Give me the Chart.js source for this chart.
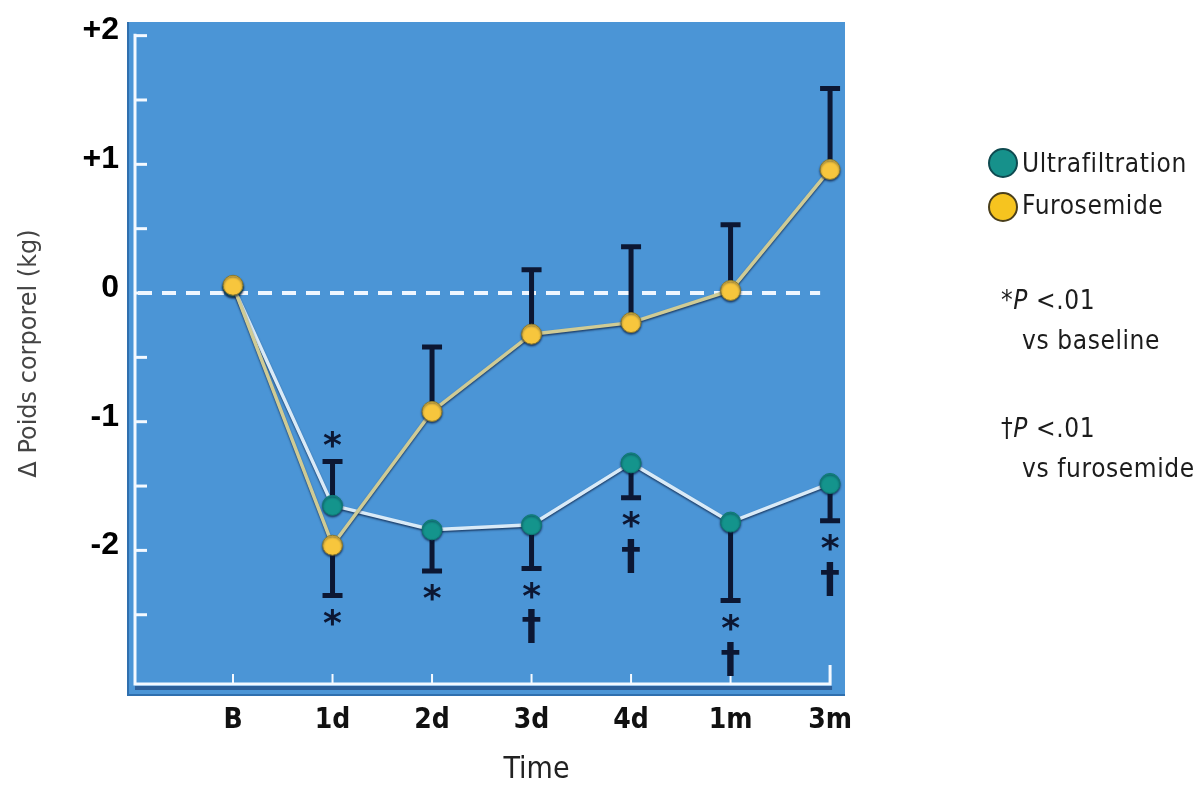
<!DOCTYPE html>
<html>
<head>
<meta charset="utf-8">
<title>Poids corporel</title>
<script src="https://cdn.jsdelivr.net/npm/chart.js@4.4.0/dist/chart.umd.min.js"></script>
<style>
    body { margin: 0; background: #fff; }
    #wrap { position: relative; width: 1201px; height: 788px; overflow: hidden; }
    #side { position: absolute; left: 0; top: 0; font-family: 'Liberation Sans Narrow', 'DejaVu Sans Condensed', sans-serif; font-size: 26px; letter-spacing: 0.6px; color: #1c1c1c; }
    #side div { position: absolute; white-space: nowrap; line-height: 32px; }
    .dot { width: 30px; height: 30px; border-radius: 50%; box-sizing: border-box; border: 2px solid #243a3a; }
</style>
</head>
<body>
<div id="wrap">
    <canvas id="weightChart" width="1201" height="788"></canvas>
    <div id="side">
        <div class="dot" style="left:988px; top:148px; background:#16918b; border-color:#0e4a50;"></div>
        <div style="left:1022px; top:147px;">Ultrafiltration</div>
        <div class="dot" style="left:988px; top:192px; background:#f6c41f; border-color:#4a3f1c;"></div>
        <div style="left:1022px; top:189px;">Furosemide</div>
        <div style="left:1001px; top:284px;">*<i>P</i> &lt;.01</div>
        <div style="left:1022px; top:324px;">vs baseline</div>
        <div style="left:1001px; top:412px;">†<i>P</i> &lt;.01</div>
        <div style="left:1022px; top:452px;">vs furosemide</div>
    </div>
</div>
<script>
    // Data
    const categories = ['B', '1d', '2d', '3d', '4d', '1m', '3m'];
    const ultrafiltration = [0.05, -1.65, -1.84, -1.80, -1.32, -1.78, -1.48];
    const furosemide = [0.06, -1.96, -0.92, -0.32, -0.23, 0.02, 0.96];
    // end value of each error bar
    const ultrafiltrationErr = [null, -1.31, -2.16, -2.14, -1.59, -2.39, -1.77];
    const furosemideErr = [null, -2.35, -0.42, 0.18, 0.36, 0.53, 1.59];
    // significance marks, placed past the end of the error bar
    const ultrafiltrationSig = ['', '*', '*', '*†', '*†', '*†', '*†'];
    const furosemideSig = ['', '*', '', '', '', '', ''];
    const yTickValues = [-2.5, -2, -1.5, -1, -0.5, 0, 0.5, 1, 1.5, 2];

    const narrow = "'Liberation Sans Narrow', 'DejaVu Sans Condensed', sans-serif";
    const navy = '#0c1733';

    const decorPlugin = {
        id: 'decor',
        beforeDraw(chart) {
            const { ctx, chartArea: a, scales: { x, y } } = chart;
            ctx.save();
            // blue panel
            ctx.fillStyle = '#2f6fae';
            ctx.fillRect(a.left - 9, a.top, a.right - a.left + 9, a.bottom - a.top + 11);
            ctx.fillStyle = '#4b95d6';
            ctx.fillRect(a.left - 7, a.top, a.right - a.left + 7, a.bottom - a.top + 9);
            ctx.fillStyle = '#2d5f99';
            ctx.fillRect(a.left - 1, a.bottom + 1, x.getPixelForValue(6) - a.left + 3, 4);

            // white axes with ticks
            const x6 = x.getPixelForValue(6);
            const yTop = y.getPixelForValue(2) - 2;
            ctx.strokeStyle = '#f4f9ff';
            ctx.lineWidth = 3;
            ctx.beginPath();
            ctx.moveTo(a.left - 1, yTop);
            ctx.lineTo(a.left - 1, a.bottom - 1);
            ctx.lineTo(x6, a.bottom - 1);
            ctx.lineTo(x6, a.bottom - 20);
            ctx.stroke();
            y.ticks.forEach(t => {
                const py = y.getPixelForValue(t.value);
                ctx.beginPath();
                ctx.moveTo(a.left, py);
                ctx.lineTo(a.left + 11, py);
                ctx.stroke();
            });
            ctx.lineWidth = 2;
            x.ticks.forEach(t => {
                const px = x.getPixelForValue(t.value);
                ctx.beginPath();
                ctx.moveTo(px, a.bottom - 1);
                ctx.lineTo(px, a.bottom - 11);
                ctx.stroke();
            });

            // dashed zero line
            const y0 = y.getPixelForValue(0);
            ctx.strokeStyle = '#eef6ff';
            ctx.lineWidth = 4;
            ctx.setLineDash([14, 10]);
            ctx.beginPath();
            ctx.moveTo(a.left + 2, y0);
            ctx.lineTo(x.getPixelForValue(5.9), y0);
            ctx.stroke();
            ctx.restore();
        },
        beforeDatasetsDraw(chart) {
            const { ctx, scales: { x, y } } = chart;
            const bars = [[ultrafiltration, ultrafiltrationErr], [furosemide, furosemideErr]];
            ctx.save();
            ctx.strokeStyle = navy;
            ctx.lineWidth = 5;
            bars.forEach(([vals, ends]) => {
                vals.forEach((v, i) => {
                    if (ends[i] === null) return;
                    const px = x.getPixelForValue(i);
                    const p0 = y.getPixelForValue(v);
                    const p1 = y.getPixelForValue(ends[i]);
                    ctx.beginPath();
                    ctx.moveTo(px, p0);
                    ctx.lineTo(px, p1);
                    ctx.moveTo(px - 10, p1);
                    ctx.lineTo(px + 10, p1);
                    ctx.stroke();
                });
            });
            ctx.restore();
        },
        beforeDatasetDraw(chart) {
            chart.ctx.save();
            chart.ctx.shadowColor = 'rgba(10, 25, 60, 0.7)';
            chart.ctx.shadowBlur = 2;
            chart.ctx.shadowOffsetY = 1.5;
        },
        afterDatasetDraw(chart) {
            chart.ctx.restore();
        },
        afterDatasetsDraw(chart) {
            const { ctx, scales: { x, y } } = chart;
            const marks = [[ultrafiltration, ultrafiltrationErr, ultrafiltrationSig], [furosemide, furosemideErr, furosemideSig]];
            ctx.save();
            ctx.fillStyle = navy;
            ctx.textAlign = 'center';
            ctx.textBaseline = 'alphabetic';
            marks.forEach(([vals, ends, sig]) => {
                vals.forEach((v, i) => {
                    if (!sig[i]) return;
                    const px = x.getPixelForValue(i);
                    const pEnd = y.getPixelForValue(ends[i]);
                    const dir = ends[i] < v ? 1 : -1;
                    Array.from(sig[i]).forEach((s, k) => {
                        ctx.font = s === '*' ? "bold 36px 'DejaVu Sans'" : "bold 40px 'DejaVu Sans'";
                        const m = ctx.measureText(s);
                        const cy = pEnd + dir * (22 + 36 * k);
                        ctx.fillText(s, px, cy + (m.actualBoundingBoxAscent - m.actualBoundingBoxDescent) / 2);
                    });
                });
            });
            ctx.restore();
        },
        afterDraw(chart) {
            // x-axis title sits under 3d in the original, not centred on the axis
            const { ctx, scales: { x } } = chart;
            ctx.save();
            ctx.fillStyle = '#222';
            ctx.font = '30px ' + narrow;
            ctx.textAlign = 'center';
            ctx.textBaseline = 'middle';
            ctx.fillText('Time', x.getPixelForValue(3.05), 770);
            ctx.restore();
        }
    };

    const ctx = document.getElementById('weightChart').getContext('2d');
    new Chart(ctx, {
        type: 'line',
        data: {
            datasets: [
                {
                    label: 'Furosemide',
                    data: furosemide.map((v, i) => ({ x: i, y: v })),
                    borderColor: '#cfcb95',
                    borderWidth: 3.5,
                    pointRadius: 10,
                    pointBackgroundColor: '#f7c63d',
                    pointBorderColor: '#8a7a30',
                    pointBorderWidth: 1,
                    tension: 0
                },
                {
                    label: 'Ultrafiltration',
                    data: ultrafiltration.map((v, i) => ({ x: i, y: v })),
                    borderColor: '#d9eaf7',
                    borderWidth: 3.5,
                    pointRadius: 10,
                    pointBackgroundColor: '#14948c',
                    pointBorderColor: '#0f7a74',
                    pointBorderWidth: 1,
                    tension: 0
                }
            ]
        },
        options: {
            responsive: false,
            animation: false,
            layout: { padding: { left: 0, top: 22, right: 356, bottom: 0 } },
            plugins: {
                legend: { display: false },
                tooltip: { enabled: false }
            },
            scales: {
                x: {
                    type: 'linear',
                    min: -0.975,
                    max: 6.15,
                    grid: { display: false, drawTicks: false },
                    border: { display: false },
                    afterBuildTicks: scale => { scale.ticks = categories.map((c, i) => ({ value: i })); },
                    afterFit: scale => { scale.height = 103; scale.paddingLeft = 0; scale.paddingRight = 0; },
                    ticks: {
                        callback: v => categories[v],
                        color: '#111',
                        padding: 19,
                        maxRotation: 0,
                        autoSkip: false,
                        font: { family: narrow, size: 28, weight: 'bold' }
                    },
                    title: { display: false, text: 'Time' }
                },
                y: {
                    min: -3.046,
                    max: 2.106,
                    grid: { display: false, drawTicks: false },
                    border: { display: false },
                    afterBuildTicks: scale => { scale.ticks = yTickValues.map(v => ({ value: v })); },
                    afterFit: scale => { scale.width = 136; scale.paddingTop = 0; scale.paddingBottom = 0; },
                    ticks: {
                        callback: v => Number.isInteger(v) ? (v > 0 ? '+' + v : String(v)) : '',
                        color: '#000',
                        padding: 17,
                        labelOffset: -5,
                        font: { family: "'Liberation Sans', Arial, sans-serif", size: 32, weight: 'bold' }
                    },
                    title: {
                        display: true,
                        text: 'Δ Poids corporel (kg)',
                        color: '#444',
                        padding: { top: 15, bottom: 0 },
                        font: { family: "'DejaVu Sans', sans-serif", size: 24 }
                    }
                }
            }
        },
        plugins: [decorPlugin]
    });
</script>
</body>
</html>
